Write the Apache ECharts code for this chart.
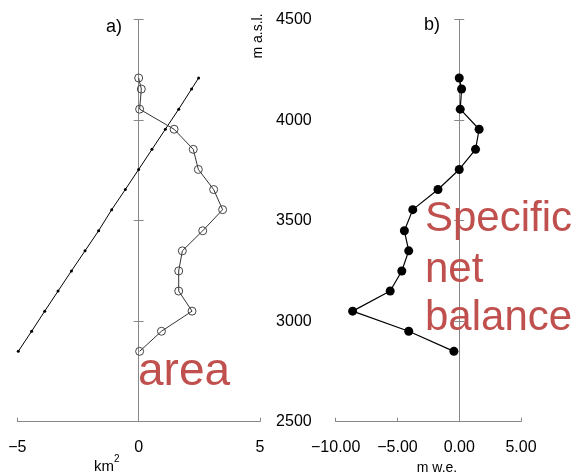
<!DOCTYPE html>
<html>
<head>
<meta charset="utf-8">
<script src="https://cdn.jsdelivr.net/npm/echarts@6/dist/echarts.min.js"></script>
<style>html,body{margin:0;padding:0;background:#fff}#c{width:580px;height:476px}</style>
</head>
<body>
<div id="c"></div>
<script>
const elevation = [4210, 4155, 4055, 3955, 3855, 3755, 3655, 3555, 3450, 3350, 3250, 3150, 3050, 2950, 2850];
const areaKm2 = [0.0, 0.11, 0.04, 1.46, 2.25, 2.46, 3.09, 3.46, 2.64, 1.80, 1.65, 1.65, 2.20, 0.94, 0.04];
const trendLine = [2.47, 2.18, 1.65, 1.10, 0.55, 0.0, -0.55, -1.11, -1.65, -2.21, -2.77, -3.32, -3.87, -4.41, -4.96];
const specificBalance = [0.0, 0.19, 0.08, 1.61, 1.32, 0.0, -1.72, -3.76, -4.44, -4.09, -4.65, -5.59, -8.63, -4.09, -0.43];
const elevTicks = [2500, 3000, 3500, 4000, 4500];
const areaTicks = [-5, 0, 5];
const balanceTicks = [-10, -5, 0, 5];

const FONT = '"Liberation Sans", Arial, sans-serif';
const AX = '#888';
const minus = s => String(s).replace('-', '\u2212');

const chart = echarts.init(document.getElementById('c'), null, {renderer: 'canvas'});

function zeroY(grid, xIdx, pos) {
  return {
    gridIndex: grid, type: 'value', position: pos,
    min: elevTicks[0], max: elevTicks[elevTicks.length - 1], interval: 500,
    axisLine: {show: true, onZero: true, onZeroAxisIndex: xIdx, lineStyle: {color: AX, width: 1}},
    axisTick: {show: true, inside: false, length: 5, lineStyle: {color: AX}},
    axisLabel: {show: false}, splitLine: {show: false}
  };
}

const option = {
  animation: false,
  backgroundColor: '#fff',
  grid: [
    {left: 17.3, top: 19.7, width: 242.7, height: 402},
    {left: 335.7, top: 19.7, width: 185.3, height: 402}
  ],
  xAxis: [
    {gridIndex: 0, type: 'value', min: areaTicks[0], max: areaTicks[2], interval: 5,
     axisLine: {show: true, onZero: false, lineStyle: {color: AX}},
     axisTick: {show: true, inside: true, length: 4, lineStyle: {color: AX}},
     axisLabel: {color: '#000', fontSize: 16, fontFamily: FONT, margin: 18, formatter: v => minus(v)},
     splitLine: {show: false}},
    {gridIndex: 1, type: 'value', min: balanceTicks[0], max: balanceTicks[3], interval: 5,
     axisLine: {show: true, onZero: false, lineStyle: {color: AX}},
     axisTick: {show: true, inside: true, length: 4, lineStyle: {color: AX}},
     axisLabel: {color: '#000', fontSize: 16, fontFamily: FONT, margin: 18, formatter: v => minus(v.toFixed(2))},
     splitLine: {show: false}}
  ],
  yAxis: [
    zeroY(0, 0, 'left'),
    zeroY(0, 0, 'right'),
    {gridIndex: 1, type: 'value', position: 'left', min: elevTicks[0], max: elevTicks[elevTicks.length - 1], interval: 500,
     axisLine: {show: false, onZero: false}, axisTick: {show: false},
     axisLabel: {color: '#000', fontSize: 16, fontFamily: FONT, margin: 24, formatter: v => String(v)},
     splitLine: {show: false}},
    zeroY(1, 1, 'left'),
    zeroY(1, 1, 'right')
  ],
  series: [
    {type: 'line', xAxisIndex: 0, yAxisIndex: 0, data: trendLine.map((v, i) => [v, elevation[i]]),
     symbol: 'circle', symbolSize: 3, itemStyle: {color: '#000'}, lineStyle: {color: '#000', width: 1}, z: 3},
    {type: 'line', xAxisIndex: 0, yAxisIndex: 0, data: areaKm2.map((v, i) => [v, elevation[i]]),
     symbol: 'circle', symbolSize: 8, itemStyle: {color: 'rgba(0,0,0,0)', borderColor: '#444', borderWidth: 1},
     lineStyle: {color: '#333', width: 1}, z: 4},
    {type: 'line', xAxisIndex: 1, yAxisIndex: 2, data: specificBalance.map((v, i) => [v, elevation[i]]),
     symbol: 'circle', symbolSize: 9, itemStyle: {color: '#000'}, lineStyle: {color: '#000', width: 1.2}, z: 4}
  ],
  graphic: [
    {type: 'text', x: 106, y: 27, style: {text: 'a)', fontSize: 18, fontFamily: FONT, fill: '#000', verticalAlign: 'middle'}},
    {type: 'text', x: 424, y: 25, style: {text: 'b)', fontSize: 18, fontFamily: FONT, fill: '#000', verticalAlign: 'middle'}},
    {type: 'text', x: 258, y: 36, rotation: Math.PI / 2, style: {text: 'm a.s.l.', fontSize: 14, fontFamily: FONT, fill: '#000', align: 'center', verticalAlign: 'middle'}},
    {type: 'text', x: 104, y: 467, style: {text: 'km', fontSize: 15, fontFamily: FONT, fill: '#000', align: 'center', verticalAlign: 'middle'}},
    {type: 'text', x: 114, y: 459, style: {text: '2', fontSize: 10, fontFamily: FONT, fill: '#000', verticalAlign: 'middle'}},
    {type: 'text', x: 437, y: 468, style: {text: 'm w.e.', fontSize: 14, fontFamily: FONT, fill: '#000', align: 'center', verticalAlign: 'middle'}},
    {type: 'text', x: 138, y: 372, z: 10, style: {text: 'area', fontSize: 46, fontFamily: FONT, fill: '#c0504d', verticalAlign: 'middle'}},
    {type: 'text', x: 425, y: 219, z: 10, style: {text: 'Specific', fontSize: 42, fontFamily: FONT, fill: '#c0504d', verticalAlign: 'middle'}},
    {type: 'text', x: 425, y: 270, z: 10, style: {text: 'net', fontSize: 42, fontFamily: FONT, fill: '#c0504d', verticalAlign: 'middle'}},
    {type: 'text', x: 425, y: 318.5, z: 10, style: {text: 'balance', fontSize: 42, fontFamily: FONT, fill: '#c0504d', verticalAlign: 'middle'}}
  ]
};
chart.setOption(option);
</script>
</body>
</html>
